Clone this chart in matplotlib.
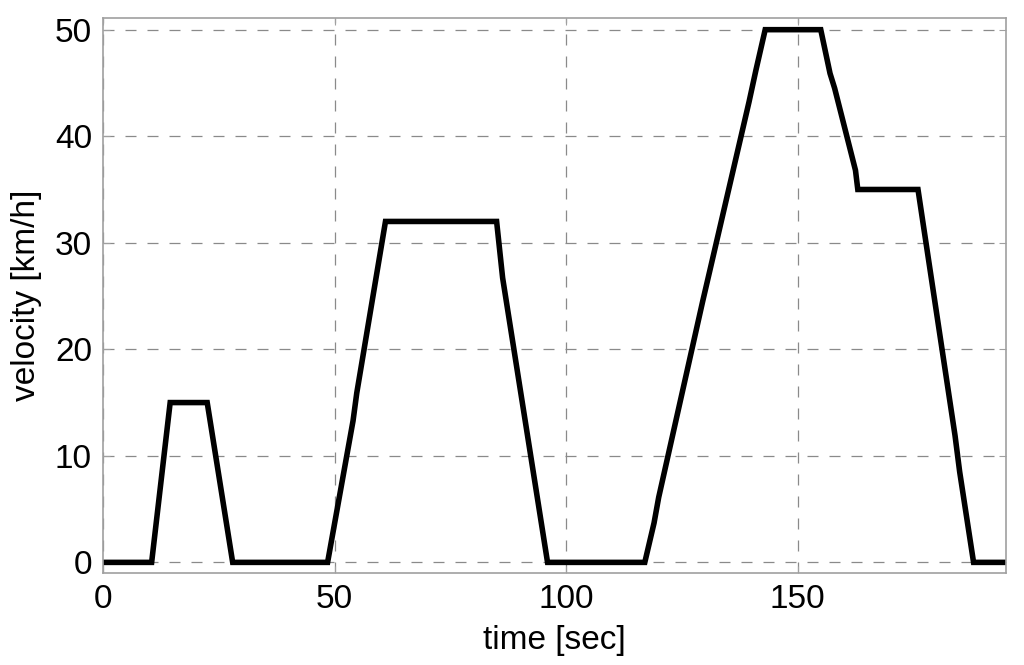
import matplotlib
matplotlib.use("Agg")
import matplotlib.pyplot as plt

# Скоростной профиль (городской цикл), точки излома
time_s = [0, 10.5, 14.5, 22.5, 28, 48.5, 54, 54.8, 61, 85, 86.3, 96,
          117, 119, 120, 129.5, 131, 139.5, 141, 143, 155, 157, 158,
          162.5, 163, 176, 177, 184, 185, 188, 195]
velocity_kmh = [0, 0, 15, 15, 0, 0, 13.3, 15.9, 32, 32, 26.7, 0,
                0, 3.7, 6.1, 24.5, 27.3, 43.2, 46.2, 50, 50, 45.9, 44.5,
                36.8, 35, 35, 32.1, 11.9, 8.5, 0, 0]

x_ticks = [0, 50, 100, 150]
y_ticks = [0, 10, 20, 30, 40, 50]

plt.rcParams['font.family'] = ['Liberation Sans', 'DejaVu Sans']

fig = plt.figure(figsize=(10.24, 6.65), dpi=100)
ax = fig.add_axes([0.1006, 0.1383, 0.8818, 0.8347])

ax.plot(time_s, velocity_kmh, color='black', linewidth=4.0, solid_joinstyle='miter')

ax.set_xlim(0, 195)
ax.set_ylim(-1, 51.1)
ax.set_xticks(x_ticks)
ax.set_yticks(y_ticks)
ax.grid(True, linestyle=(0, (8.8, 8.8)), color='#8a8a8a', linewidth=0.9)
ax.set_axisbelow(True)

for s in ax.spines.values():
    s.set_color('#a0a0a0')
    s.set_linewidth(1.2)
ax.tick_params(direction='in', length=5, color='#a0a0a0', labelsize=24,
               labelcolor='black', pad=8, top=True, right=True)

ax.set_xlabel('time [sec]', fontsize=24, labelpad=7)
ax.set_ylabel('velocity [km/h]', fontsize=24, labelpad=9)

fig.savefig('out.png', dpi=100)
